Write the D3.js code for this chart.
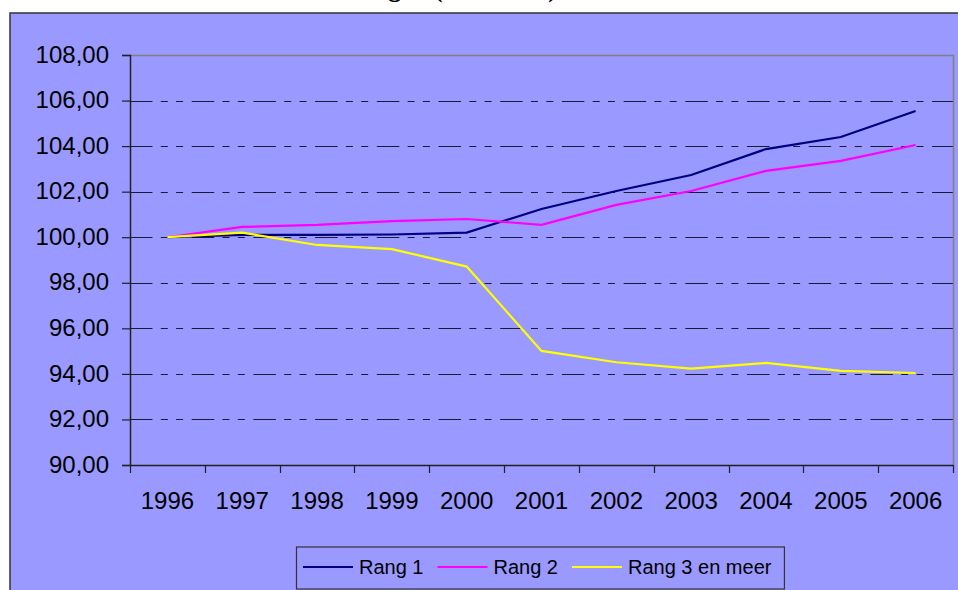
<!DOCTYPE html>
<html>
<head>
<meta charset="utf-8">
<script src="https://cdn.jsdelivr.net/npm/d3@7"></script>
<style>
  body { margin: 0; background: #fff; }
  svg { display: block; }
  text { font-family: "Liberation Sans", Arial, sans-serif; }
</style>
</head>
<body>
<div id="chart"></div>
<script>
// years on x axis
var years = ["1996", "1997", "1998", "1999", "2000", "2001", "2002", "2003", "2004", "2005", "2006"];

// index values (1996 = 100)
var rang1 = [100.00, 100.10, 100.10, 100.12, 100.20, 101.24, 102.03, 102.73, 103.87, 104.40, 105.54];
var rang2 = [100.00, 100.45, 100.54, 100.71, 100.80, 100.54, 101.42, 102.03, 102.91, 103.35, 104.05];
var rang3 = [100.00, 100.20, 99.66, 99.48, 98.71, 95.01, 94.51, 94.23, 94.48, 94.13, 94.04];

var seriesNames = ["Rang 1", "Rang 2", "Rang 3 en meer"];
var seriesColors = ["#000080", "#ff00ff", "#ffff00"];
var yTicks = [90, 92, 94, 96, 98, 100, 102, 104, 106, 108];

var W = 958, H = 590;
var plot = { left: 130, right: 953, top: 55, bottom: 465 };

var svg = d3.select("#chart").append("svg")
  .attr("width", W)
  .attr("height", H);

// title, mostly cut off at the top of the picture
svg.append("text")
  .attr("x", 557)
  .attr("y", -3)
  .attr("text-anchor", "end")
  .style("font-family", "'Liberation Serif', 'Times New Roman', serif")
  .style("font-weight", "bold")
  .style("font-size", "26px")
  .text("Woningen (1996=100)");

// chart area background
svg.append("rect")
  .attr("x", 10)
  .attr("y", 13)
  .attr("width", W)
  .attr("height", H)
  .attr("fill", "#9999ff")
  .attr("stroke", "#333")
  .attr("stroke-width", 1.5);

var x = d3.scaleBand()
  .domain(years)
  .range([plot.left, plot.right])
  .paddingInner(0)
  .paddingOuter(0);

var y = d3.scaleLinear()
  .domain([90, 108])
  .range([plot.bottom, plot.top]);

// dashed gridlines (long - short - short)
svg.append("g")
  .selectAll("line")
  .data(yTicks.filter(function(d) { return d > 90 && d < 108; }))
  .enter()
  .append("line")
  .attr("x1", plot.left)
  .attr("x2", plot.right)
  .attr("y1", function(d) { return Math.round(y(d)) + 0.5; })
  .attr("y2", function(d) { return Math.round(y(d)) + 0.5; })
  .attr("stroke", "#1a1a33")
  .attr("stroke-width", 1.2)
  .attr("stroke-dasharray", "22.5,8.3,7,8.3,7,8.6");

// plot border top and right
svg.append("path")
  .attr("d", "M" + plot.left + "," + (plot.top + 0.5) + "H" + (plot.right + 0.5) + "V" + plot.bottom)
  .attr("fill", "none")
  .attr("stroke", "#808080")
  .attr("stroke-width", 1.5);

// y axis
var yAxis = d3.axisLeft(y)
  .tickValues(yTicks)
  .tickSize(8)
  .tickPadding(13)
  .tickFormat(function(d) { return d3.format(".2f")(d).replace(".", ","); });

var gy = svg.append("g")
  .attr("transform", "translate(" + plot.left + ",0)")
  .call(yAxis);
gy.select(".domain").attr("stroke", "#222").attr("stroke-width", 1.5);
gy.selectAll(".tick line").attr("stroke", "#222").attr("stroke-width", 1.2);
gy.selectAll(".tick text")
  .attr("fill", "#000")
  .style("font-size", "24px")
  .attr("dy", "0.3em");

// x axis, ticks between the categories
var gx = svg.append("g")
  .attr("transform", "translate(0," + plot.bottom + ")")
  .call(d3.axisBottom(x).tickSize(0).tickPadding(0));
gx.select(".domain").attr("stroke", "#222").attr("stroke-width", 1.5);
gx.selectAll(".tick text")
  .attr("fill", "#000")
  .style("font-size", "24px")
  .attr("y", 44)
  .attr("dy", 0);

var edges = years.map(function(d) { return x(d); }).concat([plot.right]);
gx.selectAll(".edge")
  .data(edges)
  .enter()
  .append("line")
  .attr("class", "edge")
  .attr("x1", function(d) { return Math.round(d) + 0.5; })
  .attr("x2", function(d) { return Math.round(d) + 0.5; })
  .attr("y1", 0)
  .attr("y2", 8)
  .attr("stroke", "#222")
  .attr("stroke-width", 1.2);

// lines
var allSeries = [rang1, rang2, rang3];
var line = d3.line()
  .x(function(d, i) { return x(years[i]) + x.bandwidth() / 2; })
  .y(function(d) { return y(d); });

svg.append("g")
  .selectAll("path")
  .data(allSeries)
  .enter()
  .append("path")
  .attr("d", line)
  .attr("fill", "none")
  .attr("stroke", function(d, i) { return seriesColors[i]; })
  .attr("stroke-width", 2.2)
  .attr("stroke-linejoin", "miter");

// legend
var legend = svg.append("g");
var legBox = legend.append("rect")
  .attr("x", 296.5)
  .attr("y", 547)
  .attr("height", 42)
  .attr("fill", "#9999ff")
  .attr("stroke", "#333")
  .attr("stroke-width", 1.2);

var lx = 303;
seriesNames.forEach(function(name, i) {
  legend.append("line")
    .attr("x1", lx)
    .attr("x2", lx + 50)
    .attr("y1", 567)
    .attr("y2", 567)
    .attr("stroke", seriesColors[i])
    .attr("stroke-width", 2.2);
  var t = legend.append("text")
    .attr("x", lx + 56)
    .attr("y", 574)
    .attr("fill", "#000")
    .style("font-size", "20px")
    .text(name);
  lx = lx + 56 + t.node().getComputedTextLength() + 14;
});
legBox.attr("width", lx - 296.5 - 1);
</script>
</body>
</html>
